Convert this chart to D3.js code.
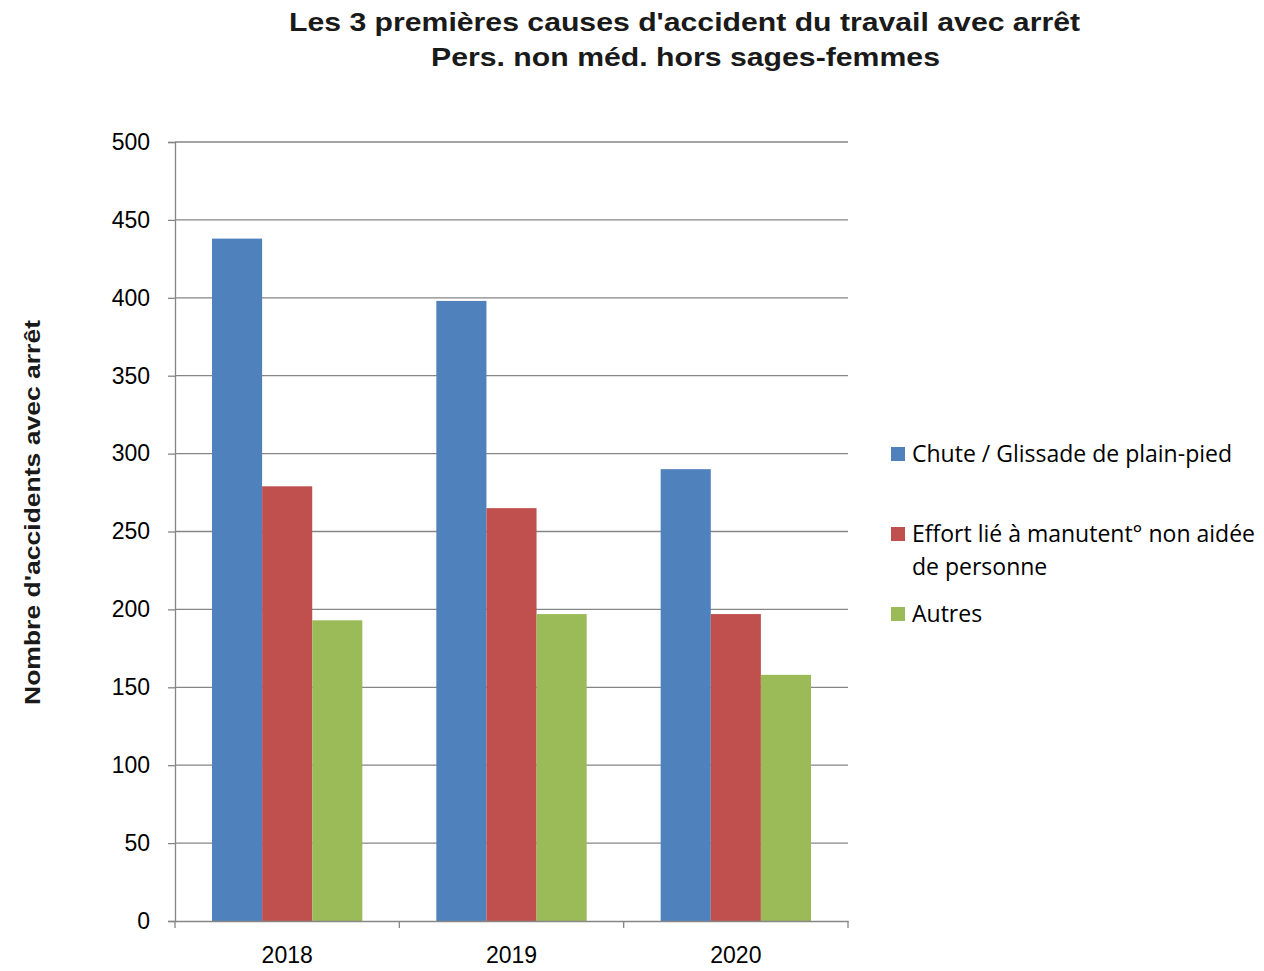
<!DOCTYPE html>
<html><head><meta charset="utf-8">
<script src="https://cdn.jsdelivr.net/npm/d3@7"></script>
<style>body{margin:0;background:#fff}</style>
</head><body>
<svg id="c" width="1264" height="971"></svg>
<script>
const years = ["2018", "2019", "2020"];
const seriesNames = ["Chute / Glissade de plain-pied", "Effort lié à manutent° non aidée de personne", "Autres"];
const chute = [438, 398, 290];
const effort = [279, 265, 197];
const autres = [193, 197, 158];
const yTicks = [0, 50, 100, 150, 200, 250, 300, 350, 400, 450, 500];
const colors = ["#4F81BD", "#C0504D", "#9BBB59"];
const series = [chute, effort, autres];

const svg = d3.select("#c");
const L = 175, R = 848, T = 142, B = 921;
const x = d3.scaleBand().domain(years).range([L, R]).paddingInner(0).paddingOuter(0);
const y = d3.scaleLinear().domain([0, 500]).range([B, T]);
const xs = d3.scaleBand().domain([0,1,2]).range([37, x.bandwidth() - 37]).padding(0);

// gridlines
svg.append("g").selectAll("line").data(yTicks.filter(d => d > 0)).join("line")
  .attr("x1", L).attr("x2", R).attr("y1", d => y(d)).attr("y2", d => y(d))
  .attr("stroke", "#868686").attr("stroke-width", 1.3);

// bars
years.forEach((yr, i) => {
  series.forEach((s, j) => {
    svg.append("rect").attr("x", x(yr) + xs(j)).attr("width", xs.bandwidth())
      .attr("y", y(s[i])).attr("height", y(0) - y(s[i])).attr("fill", colors[j]);
  });
});

// y axis
const ya = svg.append("g").attr("transform", `translate(${L},0)`)
  .call(d3.axisLeft(y).tickValues(yTicks).tickSize(7).tickPadding(18));
ya.select(".domain").attr("stroke", "#868686").attr("stroke-width", 1.3);
ya.selectAll(".tick line").attr("stroke", "#868686").attr("stroke-width", 1.3);
ya.selectAll("text").attr("font-family", "Liberation Sans Narrow, Liberation Sans, sans-serif").attr("font-size", 23).attr("fill", "#000");

// x axis
const xa = svg.append("g").attr("transform", `translate(0,${B})`)
  .call(d3.axisBottom(x).tickSize(0).tickPadding(26));
xa.select(".domain").attr("stroke", "#868686").attr("stroke-width", 1.3);
xa.selectAll("text").attr("font-family", "Liberation Sans Narrow, Liberation Sans, sans-serif").attr("font-size", 23).attr("fill", "#000");
const edges = years.map(d => x(d)).concat([R]);
svg.append("g").selectAll("line").data(edges).join("line")
  .attr("x1", d => d).attr("x2", d => d).attr("y1", B).attr("y2", B + 7)
  .attr("stroke", "#868686").attr("stroke-width", 1.3);

// title
const title = svg.append("g").attr("font-family", "Liberation Sans, Arial, sans-serif").attr("font-weight", "bold")
  .attr("font-size", 26).attr("fill", "#1a1a1a");
title.append("text").attr("x", 289).attr("y", 31).attr("textLength", 791).attr("lengthAdjust", "spacingAndGlyphs")
  .text("Les 3 premières causes d'accident du travail avec arrêt");
title.append("text").attr("x", 431).attr("y", 66).attr("textLength", 509).attr("lengthAdjust", "spacingAndGlyphs")
  .text("Pers. non méd.  hors sages-femmes");

// y label
svg.append("text").attr("transform", "translate(40,705) rotate(-90)")
  .attr("font-family", "Liberation Sans, Arial, sans-serif")
  .attr("font-weight", "bold").attr("font-size", 22).attr("fill", "#1a1a1a")
  .attr("textLength", 385).attr("lengthAdjust", "spacingAndGlyphs")
  .text("Nombre d'accidents avec arrêt");

// legend
const legRows = [
  {lines: ["Chute / Glissade de plain-pied"], y: 454},
  {lines: ["Effort lié à manutent° non aidée", "de personne"], y: 534},
  {lines: ["Autres"], y: 614}
];
legRows.forEach((r, i) => {
  svg.append("rect").attr("x", 891).attr("y", r.y - 7).attr("width", 14).attr("height", 14).attr("fill", colors[i]);
  r.lines.forEach((ln, k) => {
    svg.append("text").attr("x", 912).attr("y", r.y + 8 + k * 33)
      .attr("font-family", "Open Sans, Liberation Sans, sans-serif").attr("font-size", 23).attr("fill", "#000")
      .text(ln);
  });
});
</script>
</body></html>
